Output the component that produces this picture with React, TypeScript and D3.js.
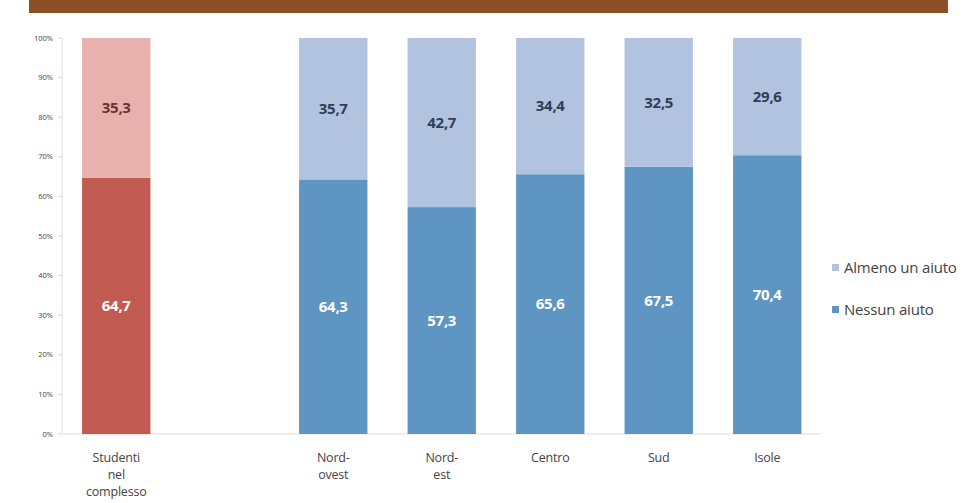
import React from "react";
import * as d3 from "d3";

const categories = ["Studenti nel complesso", "", "Nord-ovest", "Nord-est", "Centro", "Sud", "Isole"];
const categoryLines: string[][] = [["Studenti", "nel", "complesso"], [], ["Nord-", "ovest"], ["Nord-", "est"], ["Centro"], ["Sud"], ["Isole"]];
const nessunAiuto: (number | null)[] = [64.7, null, 64.3, 57.3, 65.6, 67.5, 70.4];
const almenoUnAiuto: (number | null)[] = [35.3, null, 35.7, 42.7, 34.4, 32.5, 29.6];
const yTicks = [0, 10, 20, 30, 40, 50, 60, 70, 80, 90, 100];
const seriesNames = ["Almeno un aiuto", "Nessun aiuto"];

export default function App() {
  const W = 969, H = 503;
  const x = d3.scaleBand<string>().domain(categories.map((c, i) => String(i))).range([62, 821.5]).paddingInner(0.37).paddingOuter(0.185);
  const y = d3.scaleLinear().domain([0, 100]).range([434, 38]);
  const font = "'Open Sans', 'Liberation Sans', sans-serif";
  const fmt = (v: number) => v.toFixed(1).replace(".", ",");
  return (
    <svg width={W} height={H} style={{ position: "absolute", left: 0, top: 0, background: "#fff" }} fontFamily={font}>
      <rect x={0} y={0} width={W} height={H} fill="#fff" />
      <rect x={29} y={0} width={919} height={13} fill="#8B5124" />
      {/* y axis */}
      <line x1={62} x2={62} y1={38} y2={434} stroke="#e0e0e0" />
      {yTicks.map((t) => (
        <g key={t}>
          <line x1={58} x2={62} y1={y(t)} y2={y(t)} stroke="#d9d9d9" />
          <text x={53} y={y(t)} dy="0.35em" textAnchor="end" fontSize={7.5} fill="#444">{t}%</text>
        </g>
      ))}
      <line x1={62} x2={821} y1={434} y2={434} stroke="#ecdccc" />
      {categories.map((c, i) => {
        const n = nessunAiuto[i];
        const a = almenoUnAiuto[i];
        const bx = x(String(i))!;
        const bw = x.bandwidth();
        const cx = bx + bw / 2;
        const red = i === 0;
        const dark = red ? "#C15A50" : "#5F95C3";
        const light = red ? "#E8B1AE" : "#B1C3DE";
        const topTxt = red ? "#6E3431" : "#2F3E58";
        return (
          <g key={i}>
            {n != null && a != null && (
              <>
                <rect x={bx} y={y(n)} width={bw} height={y(0) - y(n)} fill={dark} />
                <rect x={bx} y={y(n + a)} width={bw} height={y(n) - y(n + a)} fill={light} />
                <text x={cx} y={(y(n) + y(0)) / 2} dy="0.35em" textAnchor="middle" fontSize={15} fontWeight="bold" fill="#fff" letterSpacing={-0.3}>{fmt(n)}</text>
                <text x={cx} y={(y(n + a) + y(n)) / 2} dy="0.35em" textAnchor="middle" fontSize={15} fontWeight="bold" fill={topTxt} letterSpacing={-0.3}>{fmt(a)}</text>
              </>
            )}
            {categoryLines[i].map((l, k) => (
              <text key={k} x={cx} y={458 + k * 17} dy="0.35em" textAnchor="middle" fontSize={12.5} fill="#444" letterSpacing={-0.2}>{l}</text>
            ))}
          </g>
        );
      })}
      {/* legend */}
      <rect x={832} y={264} width={7} height={7} fill="#B1C3DE" />
      <text x={844} y={268} dy="0.35em" fontSize={15} fill="#444" letterSpacing={-0.2}>{seriesNames[0]}</text>
      <rect x={832} y={306} width={7} height={7} fill="#5F95C3" />
      <text x={844} y={310} dy="0.35em" fontSize={15} fill="#444" letterSpacing={-0.2}>{seriesNames[1]}</text>
    </svg>
  );
}
